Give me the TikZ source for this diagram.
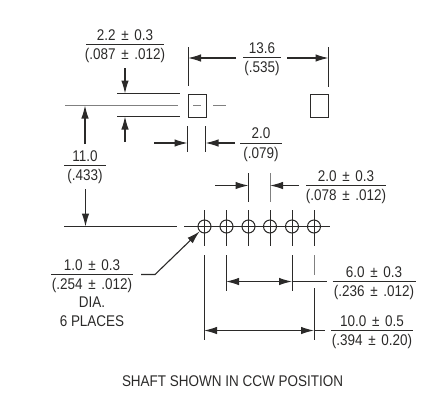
\documentclass[tikz,border=0pt]{standalone}
\usepackage{fontspec}
\setmainfont[FakeStretch=0.87]{Liberation Sans}
\usetikzlibrary{arrows.meta}
\definecolor{inkgray}{HTML}{2B2A29}
\newcommand{\plusmin}{\hspace{0.36em}±\hspace{0.36em}}
\tikzset{
  dimline/.style={line width=1.1pt,draw=inkgray,-{Latex[length=13pt,width=7.5pt]}},
  dimboth/.style={line width=1.1pt,draw=inkgray,{Latex[length=13pt,width=7.5pt]}-{Latex[length=13pt,width=7.5pt]}},
  extline/.style={line width=1pt,draw=inkgray},
  padbox/.style={line width=1pt,draw=inkgray},
  dimtext/.style={inner sep=0pt,text=inkgray,font=\fontsize{15.5}{17}\selectfont},
}
\begin{document}
\begin{tikzpicture}[x=1pt,y=-1pt]
\useasboundingbox (0,0) rectangle (426,392);
% fractions: name/x/y of rule/half width/top/bottom
\foreach \n/\x/\y/\w/\t/\b in {
  padw/125/44.5/39/{2.2\plusmin 0.3}/{(.087\plusmin .012)},
  span/262/57.5/19/{13.6}/{(.535)},
  height/85/165.5/21/{11.0}/{(.433)},
  pad/261/143/21/{2.0}/{(.079)},
  pitch/346/185.5/40/{2.0\plusmin 0.3}/{(.078\plusmin .012)},
  hole/92/274.5/41/{1.0\plusmin 0.3}/{(.254\plusmin .012)},
  inner/374/281.5/41.5/{6.0\plusmin 0.3}/{(.236\plusmin .012)},
  outer/372/330.5/41/{10.0\plusmin 0.5}/{(.394\plusmin 0.20)}}{
\draw[extline] (\x-\w,\y) -- (\x+\w,\y);
\node[dimtext] (\n top) at (\x,\y-9.5) {\t};
\node[dimtext] (\n bot) at (\x,\y+11) {\b};
}
\node[dimtext] (dia) at (92,302) {DIA.};
\node[dimtext] (places) at (92,321) {6 PLACES};
\node[dimtext] (shaft) at (232.5,381) {SHAFT SHOWN IN CCW POSITION};
% pads
\draw[padbox] (188,94) rectangle (206,117);
\draw[padbox] (310.5,94) rectangle (328.5,117);
\draw[extline,gray] (193,105.5) -- (201,105.5);
\draw[extline,gray] (213,105.5) -- (226,105.5);
% witness lines
\draw[extline] (117,93.5) -- (180,93.5);
\draw[extline,gray] (65,105.5) -- (178,105.5);
\draw[extline] (117,116.5) -- (180,116.5);
\draw[extline] (188,47) -- (188,86);
\draw[extline] (328.5,47) -- (328.5,87);
\draw[extline] (187.5,126) -- (187.5,152);
\draw[extline] (205.5,126) -- (205.5,152);
\draw[extline] (248.5,173) -- (248.5,202);
\draw[extline,gray] (270,173) -- (270,202);
\draw[extline] (64,226.5) -- (177,226.5);
% holes
\draw[extline] (184,226.5) -- (330,226.5);
\foreach \i/\x in {1/204.5,2/226.5,3/248.5,4/270,5/292,6/314}{
\draw[extline] (\x,210) -- (\x,246);
\node[circle,draw=inkgray,line width=1pt,minimum size=13pt,inner sep=0pt] (hole\i) at (\x,226.5) {};
}
\draw[extline] (204,255) -- (204,340);
\draw[extline] (226,255) -- (226,291);
\draw[extline] (292,255) -- (292,291);
\draw[extline,gray] (314,255) -- (314,275);
\draw[extline] (314,288) -- (314,340);
% dimension arrows
\draw[dimline] (236,58) -- (188,58);
\draw[dimline] (287,58) -- (328.5,58);
\draw[dimline] (125,68) -- (125,93.5);
\draw[dimline] (125,142) -- (125,116.5);
\draw[dimline] (85,144) -- (85,105.5);
\draw[dimline] (85.5,189) -- (85.5,226.5);
\draw[dimline] (154,143) -- (187.5,143);
\draw[dimline] (235,143) -- (205.5,143);
\draw[dimline] (215,185.5) -- (248.5,185.5);
\draw[dimline] (299,185.5) -- (270,185.5);
\draw[dimboth] (226,281.5) -- (292,281.5);
\draw[extline] (292,281.5) -- (327,281.5);
\draw[dimboth] (204,330.5) -- (314,330.5);
\draw[extline] (314,330.5) -- (325,330.5);
% leader
\draw[dimline] (141,274.5) -- (155,274.5) -- (hole1.south west);
\end{tikzpicture}
\end{document}
